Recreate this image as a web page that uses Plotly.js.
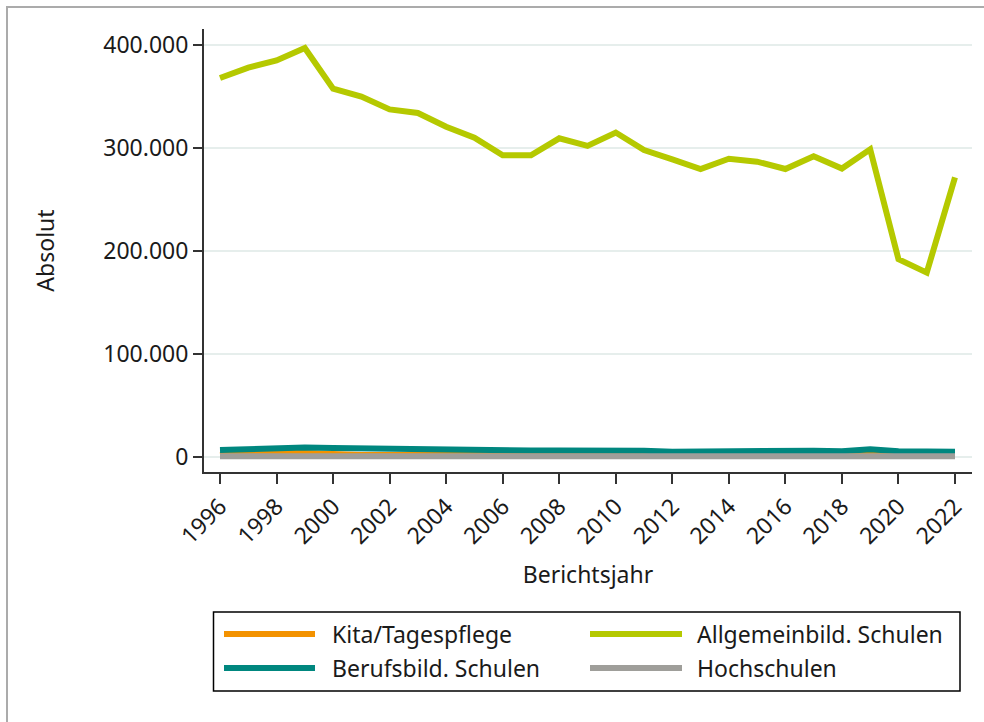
<!DOCTYPE html>
<html>
<head>
<meta charset="utf-8">
<script src="https://cdn.plot.ly/plotly-3.0.1.min.js"></script>
<style>
  html, body { margin: 0; padding: 0; background: #ffffff; overflow: hidden; }
  #frame { position: absolute; left: 6px; top: 6px; width: 1000px; height: 800px; border: 2px solid #ababab; box-sizing: border-box; }
  #chart { position: absolute; left: 0; top: 0; width: 984px; height: 722px; }
</style>
</head>
<body>
<div id="frame"></div>
<div id="chart"></div>
<script>
const years = [1996,1997,1998,1999,2000,2001,2002,2003,2004,2005,2006,2007,2008,2009,2010,2011,2012,2013,2014,2015,2016,2017,2018,2019,2020,2021,2022];
const seriesNames = ["Kita/Tagespflege", "Allgemeinbild. Schulen", "Berufsbild. Schulen", "Hochschulen"];
const kita = [2000,3500,5000,4000,2500,2000,2000,2000,2500,2500,2500,2500,2500,2500,2500,2500,2500,2500,2500,2500,2500,2500,2500,3000,2500,2500,2500];
const allgemein = [368000,378000,385000,397000,357600,350000,337500,334000,320700,310000,292900,292900,309400,302000,315000,298000,289000,279600,289600,286700,279600,292000,280000,298700,192000,179000,271500];
const berufs = [6800,8000,9000,9200,8700,8300,8000,7800,6500,6200,5800,6200,6400,6600,6800,6000,5200,5600,5800,5600,5800,6000,5500,7500,5500,5000,5000];
const hoch = [700,700,700,700,700,700,700,700,700,700,700,700,700,700,700,700,700,700,700,700,700,700,700,700,700,700,700];
const yTicks = [0,100000,200000,300000,400000];
const xTicks = [1996,1998,2000,2002,2004,2006,2008,2010,2012,2014,2016,2018,2020,2022];
const colors = ["#f39200", "#b5c900", "#00877f", "#9f9e9a"];

const FONT = "Noto Sans, Open Sans, sans-serif";
const FS = 23;
const W = 984, H = 722;
const PL = 204, PR = 972, PT = 29, PB = 472;
const px = x => (x - PL) / (PR - PL);
const py = y => (PB - y) / (PB - PT);

const data = [kita, allgemein, berufs, hoch].map((vals, i) => ({
  x: years, y: vals, type: "scatter", mode: "lines", name: seriesNames[i],
  line: { color: colors[i], width: 6 }, showlegend: false, hoverinfo: "skip"
}));

// manual legend (Stata style) built from names and colors
const shapes = [{
  type: "rect", xref: "paper", yref: "paper",
  x0: px(213.5), x1: px(960), y0: py(612), y1: py(691),
  line: { color: "#000000", width: 1.5 }, fillcolor: "rgba(0,0,0,0)"
}];
const annotations = [];
const legPos = [
  { lx0: 224, lx1: 315, tx: 330, y: 634 },
  { lx0: 590, lx1: 682, tx: 695, y: 634 },
  { lx0: 224, lx1: 315, tx: 330, y: 668 },
  { lx0: 590, lx1: 682, tx: 695, y: 668 }
];
[0, 1, 2, 3].forEach((si, k) => {
  const p = legPos[k];
  shapes.push({ type: "line", xref: "paper", yref: "paper",
    x0: px(p.lx0), x1: px(p.lx1), y0: py(p.y), y1: py(p.y),
    line: { color: colors[si], width: 6 } });
  annotations.push({ xref: "paper", yref: "paper", x: px(p.tx), y: py(p.y),
    xanchor: "left", yanchor: "middle", showarrow: false, text: seriesNames[si],
    font: { family: FONT, size: FS, color: "#1a1a1a" } });
});

const layout = {
  width: W, height: H,
  margin: { l: PL, r: W - PR, t: PT, b: H - PB, pad: 0 },
  paper_bgcolor: "rgba(0,0,0,0)", plot_bgcolor: "rgba(0,0,0,0)",
  separators: ",.",
  font: { family: FONT, size: FS, color: "#1a1a1a" },
  showlegend: false,
  xaxis: {
    range: [1996 - 16 / 28.27, 2022 + 17 / 28.27],
    tickvals: xTicks, ticktext: xTicks.map(String),
    tickangle: -45, ticks: "outside", ticklen: 10, tickwidth: 2, tickcolor: "#333333",
    showline: true, linecolor: "#333333", linewidth: 2, showgrid: false, zeroline: false,
    tickfont: { family: FONT, size: FS, color: "#1a1a1a" },
    title: { text: "Berichtsjahr", font: { family: FONT, size: FS, color: "#1a1a1a" }, standoff: 18 }
  },
  yaxis: {
    range: [-15 / 1.03 * 1000, 400000 + 16 / 1.03 * 1000],
    tickvals: yTicks, tickformat: ",d",
    ticks: "outside", ticklen: 9, tickwidth: 2, tickcolor: "#333333",
    showline: true, linecolor: "#333333", linewidth: 2,
    showgrid: true, gridcolor: "#e6eeec", gridwidth: 2, zeroline: false,
    tickfont: { family: FONT, size: FS, color: "#1a1a1a" },
    title: { text: "Absolut", font: { family: FONT, size: FS, color: "#1a1a1a" }, standoff: 42 }
  },
  shapes: shapes,
  annotations: annotations
};

Plotly.newPlot("chart", data, layout, { displayModeBar: false, staticPlot: true });
</script>
</body>
</html>
